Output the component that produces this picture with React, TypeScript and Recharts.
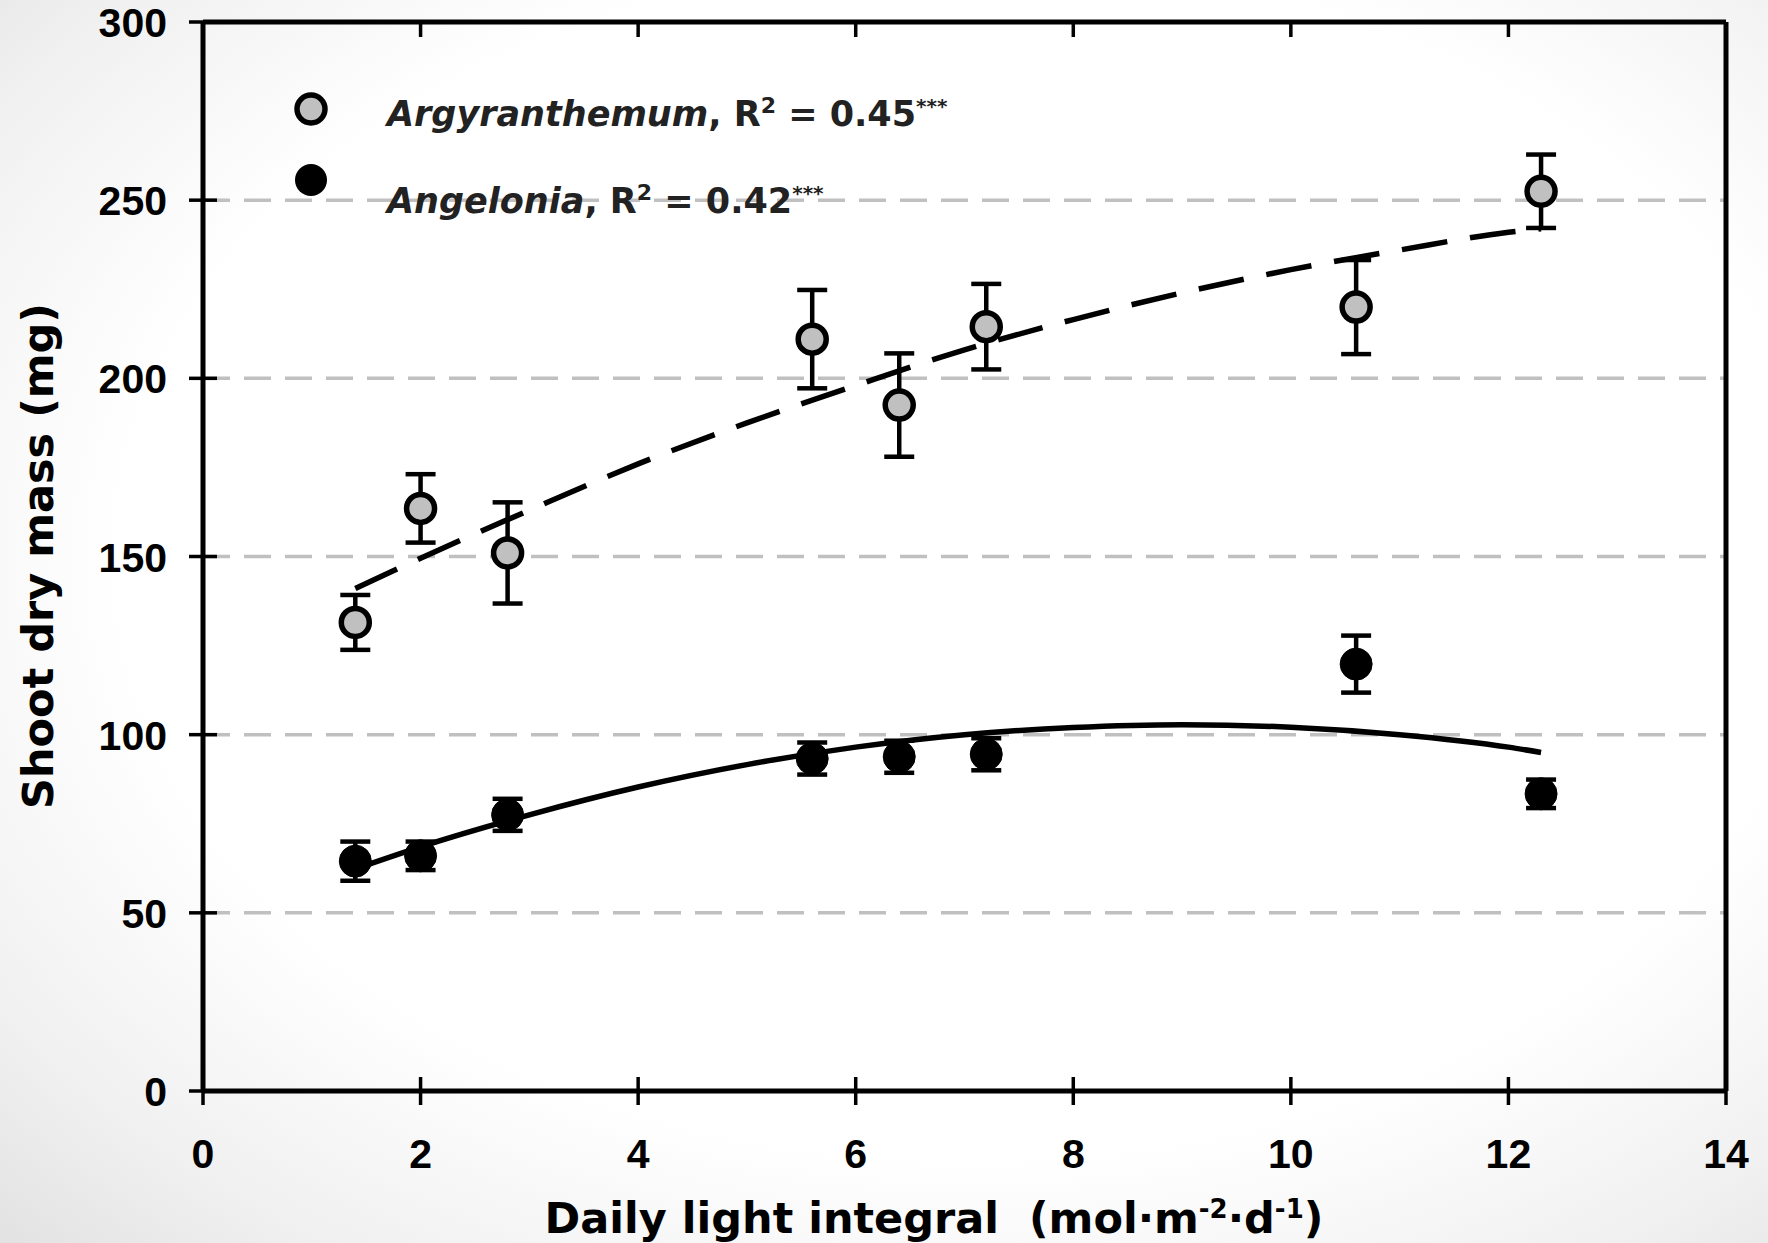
import React from "react";
import {
  ComposedChart,
  Scatter,
  Line,
  XAxis,
  YAxis,
  CartesianGrid,
  ErrorBar,
  ReferenceLine,
} from "recharts";

if (typeof document !== "undefined") {
  document.body.style.margin = "0";
}

// ---- data ----
const dli = [1.4, 2.0, 2.8, 5.6, 6.4, 7.2, 10.6, 12.3];
const argyMean = [131.5, 163.5, 151, 211, 192.5, 214.5, 220, 252.5];
const argyErr = [7.7, 9.6, 14.2, 13.8, 14.5, 12, 13.2, 10.3];
const angelMean = [64.5, 66, 77.5, 93.3, 93.8, 94.5, 119.8, 83.4];
const angelErr = [5.5, 4, 4.5, 4.5, 4.5, 4.5, 8, 4];

const fitX = [1.4, 2, 3, 4, 5, 6, 7, 8, 9, 10, 11, 12, 12.3];
const argyFit = [141, 149.5, 163, 176, 187.5, 198, 208, 216.5, 224, 230.5, 236, 241, 242];
const angelFit = [62.3, 68.5, 77.5, 85.3, 91.6, 96.5, 100, 102, 102.8, 102.1, 100, 96.5, 95];

const xTicks = [0, 2, 4, 6, 8, 10, 12, 14];
const yTicks = [0, 50, 100, 150, 200, 250, 300];
const rightTicks = [50, 100, 150, 200, 250];
const Y_MAX = 300;

const argyData = dli.map((x, i) => ({ x, y: argyMean[i], err: argyErr[i] }));
const angelData = dli.map((x, i) => ({ x, y: angelMean[i], err: angelErr[i] }));
const argyFitData = fitX.map((x, i) => ({ x, y: argyFit[i] }));
const angelFitData = fitX.map((x, i) => ({ x, y: angelFit[i] }));

// layout constants
const W = 1768;
const H = 1243;
const MARGIN = { top: 22, right: 2, left: 103, bottom: 92 };
const X_AXIS_H = 60;
const PLOT_H = H - MARGIN.top - MARGIN.bottom - X_AXIS_H;

const FONT = "'DejaVu Sans', sans-serif";
const TICK_FONT = "'Liberation Sans', Arial, sans-serif";
const TICK_HALF = 14;

const YTickLeft = (props: any) => {
  const { x, y, payload } = props;
  return (
    <g>
      <line x1={x - TICK_HALF} x2={x + TICK_HALF} y1={y} y2={y} stroke="#000" strokeWidth={3.5} />
      <text
        x={x - 36}
        y={y + 1}
        textAnchor="end"
        dominantBaseline="central"
        fontFamily={TICK_FONT}
        fontWeight="bold"
        fontSize={41}
        fill="#000"
      >
        {payload.value}
      </text>
    </g>
  );
};

const YTickRight = (props: any) => {
  const { x, y } = props;
  return (
    <line x1={x - TICK_HALF} x2={x + TICK_HALF} y1={y} y2={y} stroke="#000" strokeWidth={3.5} />
  );
};

const XTick = (props: any) => {
  const { x, y, payload, index } = props;
  const inner = payload.value !== 0 && payload.value !== 14;
  const topY = y - PLOT_H;
  return (
    <g>
      <line x1={x} x2={x} y1={y - TICK_HALF} y2={y + TICK_HALF} stroke="#000" strokeWidth={3.5} />
      {inner && (
        <line x1={x} x2={x} y1={topY} y2={topY + 15} stroke="#000" strokeWidth={3.5} />
      )}
      <text
        x={x}
        y={y + 63}
        textAnchor="middle"
        dominantBaseline="central"
        fontFamily={TICK_FONT}
        fontWeight="bold"
        fontSize={41}
        fill="#000"
      >
        {payload.value}
      </text>
    </g>
  );
};

const GreyDot = (props: any) => {
  const { cx, cy } = props;
  return <circle cx={cx} cy={cy} r={14} fill="#c0c0c0" stroke="#000" strokeWidth={5.5} />;
};

const BlackDot = (props: any) => {
  const { cx, cy } = props;
  return <circle cx={cx} cy={cy} r={16} fill="#000" stroke="#000" strokeWidth={1} />;
};

export default function App() {
  return (
    <div
      style={{
        position: "relative",
        width: W,
        height: H,
        background:
          "radial-gradient(ellipse at 55% 45%, #ffffff 62%, #f0f0f0 85%, #e2e2e2 100%)",
        overflow: "hidden",
      }}
    >
      <ComposedChart width={W} height={H} margin={MARGIN}>
        <CartesianGrid
          vertical={false}
          stroke="#c0c0c0"
          strokeWidth={3.5}
          strokeDasharray="27 14"
        />
        <XAxis
          dataKey="x"
          type="number"
          domain={[0, 14]}
          ticks={xTicks}
          height={X_AXIS_H}
          tickLine={false}
          tickSize={0}
          tickMargin={0}
          axisLine={{ stroke: "#000", strokeWidth: 5 }}
          tick={<XTick />}
          interval={0}
          allowDataOverflow
        />
        <YAxis
          type="number"
          domain={[0, Y_MAX]}
          ticks={yTicks}
          width={100}
          tickLine={false}
          tickSize={0}
          tickMargin={0}
          axisLine={{ stroke: "#000", strokeWidth: 5 }}
          tick={<YTickLeft />}
          interval={0}
        />
        <YAxis
          yAxisId="right"
          orientation="right"
          type="number"
          domain={[0, Y_MAX]}
          ticks={rightTicks}
          width={40}
          tickLine={false}
          tickSize={0}
          tickMargin={0}
          axisLine={{ stroke: "#000", strokeWidth: 5 }}
          tick={<YTickRight />}
          interval={0}
        />
        <ReferenceLine y={Y_MAX} stroke="#000" strokeWidth={5} />
        <Line
          data={argyFitData}
          dataKey="y"
          type="monotone"
          stroke="#000"
          strokeWidth={5.5}
          strokeDasharray="46 23"
          dot={false}
          activeDot={false}
          isAnimationActive={false}
        />
        <Line
          data={angelFitData}
          dataKey="y"
          type="monotone"
          stroke="#000"
          strokeWidth={5.5}
          dot={false}
          activeDot={false}
          isAnimationActive={false}
        />
        <Scatter data={argyData} dataKey="y" shape={<GreyDot />} isAnimationActive={false}>
          <ErrorBar dataKey="err" direction="y" width={15} strokeWidth={4.5} stroke="#000" />
        </Scatter>
        <Scatter data={angelData} dataKey="y" shape={<BlackDot />} isAnimationActive={false}>
          <ErrorBar dataKey="err" direction="y" width={15} strokeWidth={4.5} stroke="#000" />
        </Scatter>
      </ComposedChart>

      {/* Legend */}
      <svg
        width={40}
        height={120}
        style={{ position: "absolute", left: 291, top: 85 }}
      >
        <circle cx={20} cy={24} r={14} fill="#c0c0c0" stroke="#000" strokeWidth={5.5} />
        <circle cx={20} cy={95} r={16} fill="#000" />
      </svg>
      <div
        style={{
          position: "absolute",
          left: 387,
          top: 81,
          fontFamily: FONT,
          fontWeight: "bold",
          fontSize: 35,
          color: "#222",
          whiteSpace: "nowrap",
          lineHeight: "50px",
        }}
      >
        <i>Argyranthemum</i>, R<sup style={{ fontSize: 22 }}>2</sup> = 0.45
        <sup style={{ fontSize: 20 }}>***</sup>
      </div>
      <div
        style={{
          position: "absolute",
          left: 387,
          top: 168,
          fontFamily: FONT,
          fontWeight: "bold",
          fontSize: 35,
          color: "#222",
          whiteSpace: "nowrap",
          lineHeight: "50px",
        }}
      >
        <i>Angelonia</i>, R<sup style={{ fontSize: 22 }}>2</sup> = 0.42
        <sup style={{ fontSize: 20 }}>***</sup>
      </div>

      {/* X axis title */}
      <div
        style={{
          position: "absolute",
          left: 934,
          top: 1218,
          transform: "translate(-50%, -50%)",
          fontFamily: FONT,
          fontWeight: "bold",
          fontSize: 43,
          color: "#000",
          whiteSpace: "nowrap",
        }}
      >
        Daily light integral&nbsp;&nbsp;(mol·m<sup style={{ fontSize: 26 }}>-2</sup>·d
        <sup style={{ fontSize: 26 }}>-1</sup>)
      </div>

      {/* Y axis title */}
      <div
        style={{
          position: "absolute",
          left: 38,
          top: 556,
          transform: "translate(-50%, -50%) rotate(-90deg)",
          fontFamily: FONT,
          fontWeight: "bold",
          fontSize: 43,
          color: "#000",
          whiteSpace: "nowrap",
        }}
      >
        Shoot dry mass (mg)
      </div>
    </div>
  );
}
